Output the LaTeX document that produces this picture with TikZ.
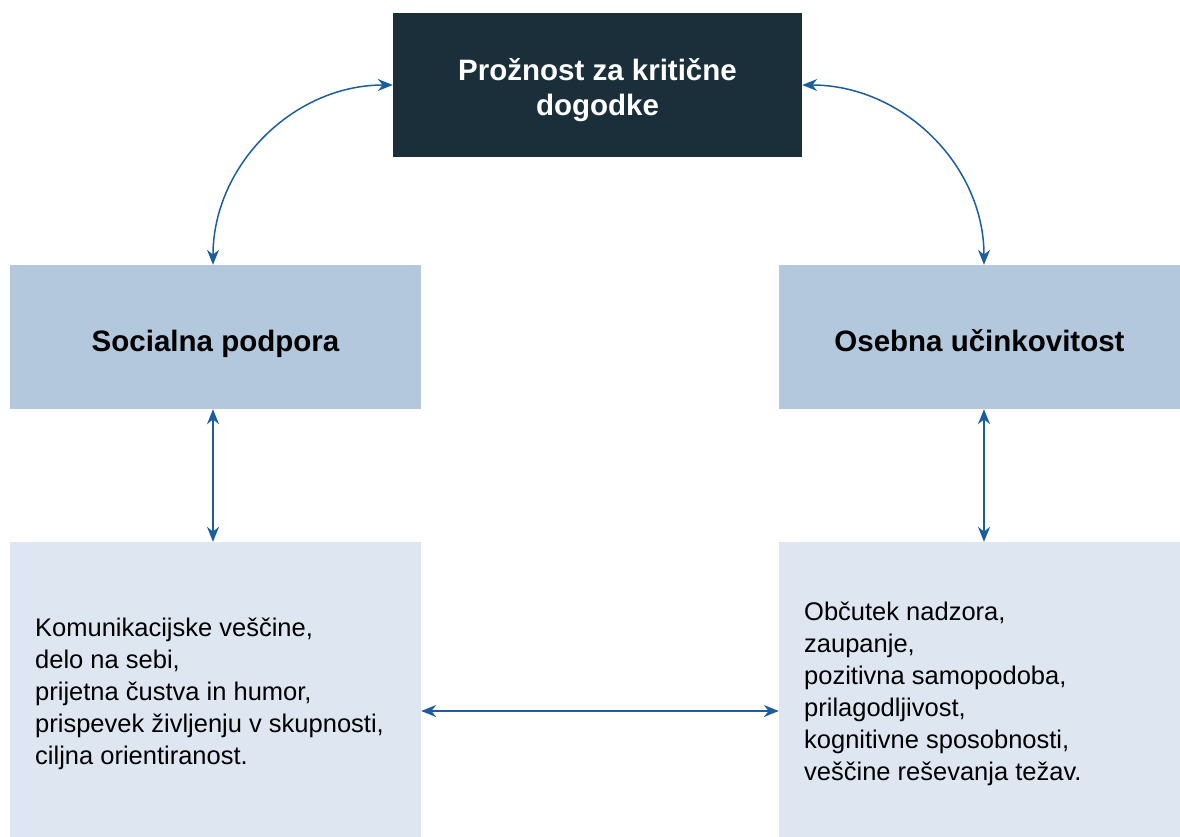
\documentclass[tikz,border=0pt]{standalone}
\usepackage{fontspec}
\setmainfont{Liberation Sans}
\usetikzlibrary{arrows.meta,positioning}
\definecolor{darkbox}{HTML}{1A2F3A}
\definecolor{midbox}{HTML}{B3C8DC}
\definecolor{lightbox}{HTML}{DEE7F1}
\definecolor{arrowblue}{HTML}{1A5E9E}
\tikzset{
    headbox/.style={fill=#1, inner sep=0pt, align=center, font=\fontsize{29.5}{35}\selectfont\bfseries},
    listbox/.style={fill=lightbox, inner sep=0pt, minimum height=295pt},
    listtext/.style={font=\fontsize{25.5}{32}\selectfont, align=left, anchor=west, inner sep=0pt},
    link/.style={arrowblue, line width=1.5pt, {Stealth[length=15pt,width=12pt]}-{Stealth[length=15pt,width=12pt]}}
}
\begin{document}
\begin{tikzpicture}[x=1pt,y=-1pt]
    \useasboundingbox (0,0) rectangle (1180,837);

    % Top box
    \node[headbox=darkbox, text=white, minimum width=409pt, minimum height=144pt,
        text height=68pt, text depth=6pt] (resilience) at (597.5,85)
        {Prožnost za kritične\\dogodke};

    % Middle boxes
    \node[headbox=midbox, minimum width=411pt, minimum height=144pt, text height=28pt, text depth=0pt]
        (social) at (215.5,337) {Socialna podpora};
    \node[headbox=midbox, minimum width=401pt, minimum height=144pt, text height=28pt, text depth=0pt]
        (personal) at (979.5,337) {Osebna učinkovitost};

    % Bottom boxes
    \node[listbox, minimum width=411pt] (socialList) at (215.5,689.5) {};
    \node[listbox, minimum width=401pt] (personalList) at (979.5,689.5) {};
    \node[listtext] (socialText) at (35,694)
        {Komunikacijske veščine,\\delo na sebi,\\prijetna čustva in humor,\\prispevek življenju v skupnosti,\\ciljna orientiranost.};
    \node[listtext] (personalText) at (804,694)
        {Občutek nadzora,\\zaupanje,\\pozitivna samopodoba,\\prilagodljivost,\\kognitivne sposobnosti,\\veščine reševanja težav.};

    % Connections
    \draw[link] ([xshift=-2.5pt]social.north) to[out=90, in=180] (resilience.west);
    \draw[link] ([xshift=4.5pt]personal.north) to[out=90, in=0] (resilience.east);
    \draw[link] ([xshift=-2.5pt]social.south) -- ([xshift=-2.5pt]socialList.north);
    \draw[link] ([xshift=4.5pt]personal.south) -- ([xshift=4.5pt]personalList.north);
    \draw[link] ([yshift=-21.5pt]socialList.east) -- ([yshift=-21.5pt]personalList.west);
\end{tikzpicture}
\end{document}
